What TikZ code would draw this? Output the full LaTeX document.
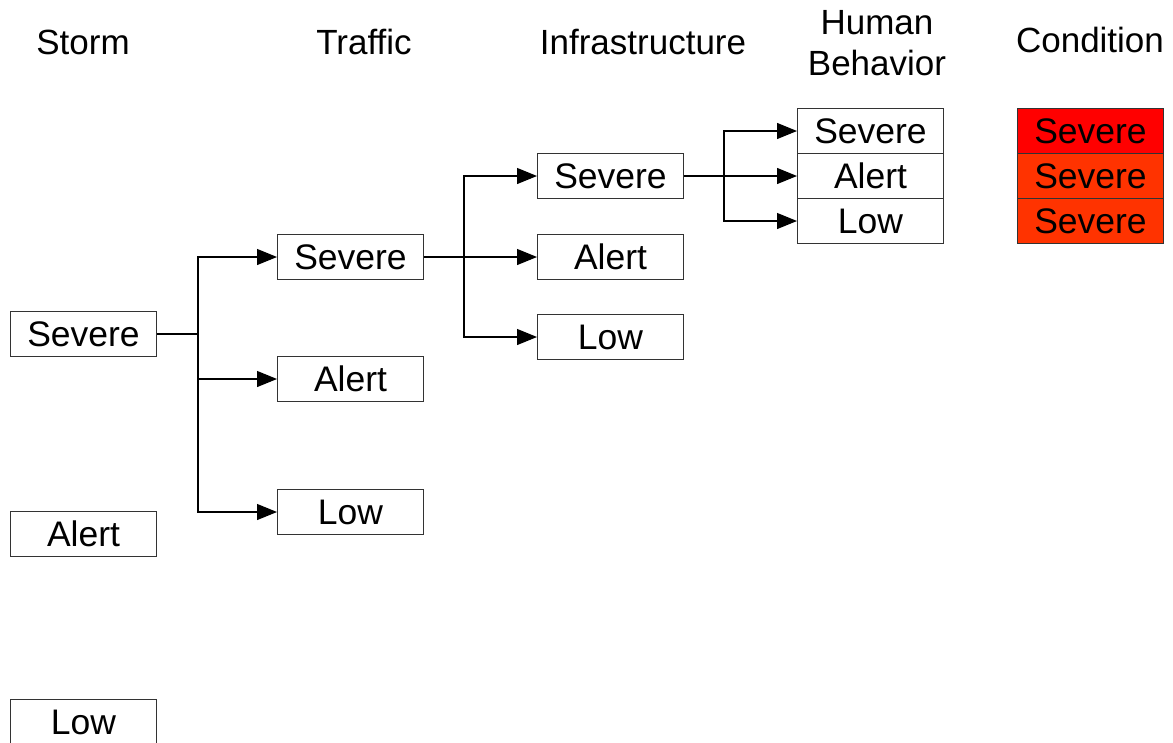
\documentclass[tikz,border=0pt]{standalone}
\usepackage{fontspec}
\setmainfont{Liberation Sans}
\usetikzlibrary{arrows.meta}
\definecolor{cred}{HTML}{FF0000}
\definecolor{corange}{HTML}{FF3300}
\tikzset{
  box/.style={draw=black!80, line width=1pt, fill=white, minimum width=146pt, minimum height=45pt, inner sep=0pt, font=\fontsize{35.5}{41}\selectfont, anchor=north west},
  hdr/.style={font=\fontsize{35}{41}\selectfont, align=center, inner sep=0pt},
  link/.style={line width=1.2pt, black},
  arr/.style={link, -{Triangle[length=20pt,width=16pt]}}
}
\begin{document}
\begin{tikzpicture}[x=1pt,y=-1pt]
\useasboundingbox (0,0) rectangle (1173,742);
% headers
\node[hdr] (hstorm) at (83,42) {Storm};
\node[hdr] (htraffic) at (364,42) {Traffic};
\node[hdr] (hinfra) at (643,42) {Infrastructure};
\node[hdr] (hhuman) at (877,43) {Human\\Behavior};
\node[hdr] (hcond) at (1090,40) {Condition};
% storm
\node[box] (ss) at (10,311) {Severe};
\node[box] (sa) at (10,511) {Alert};
\node[box] (sl) at (10,699) {Low};
% traffic
\node[box] (ts) at (277,234) {Severe};
\node[box] (ta) at (277,356) {Alert};
\node[box] (tl) at (277,489) {Low};
% infrastructure
\node[box] (is) at (537,153) {Severe};
\node[box] (ia) at (537,234) {Alert};
\node[box] (il) at (537,314) {Low};
% human behavior
\node[box] (hs) at (797,108) {Severe};
\node[box] (ha) at (797,153) {Alert};
\node[box] (hl) at (797,198) {Low};
% condition
\node[box, fill=cred] (c1) at (1017,108) {Severe};
\node[box, fill=corange] (c2) at (1017,153) {Severe};
\node[box, fill=corange] (c3) at (1017,198) {Severe};
% connectors
\draw[link] (ss.east) -- ++(41,0) coordinate (j1);
\draw[arr] (j1) |- (ts.west);
\draw[arr] (j1) |- (ta.west);
\draw[arr] (j1) |- (tl.west);
\draw[link] (ts.east) -- ++(40,0) coordinate (j2);
\draw[arr] (j2) |- (is.west);
\draw[arr] (j2) -- (ia.west);
\draw[arr] (j2) |- (il.west);
\draw[link] (is.east) -- ++(40,0) coordinate (j3);
\draw[arr] (j3) |- (hs.west);
\draw[arr] (j3) -- (ha.west);
\draw[arr] (j3) |- (hl.west);
\end{tikzpicture}
\end{document}
